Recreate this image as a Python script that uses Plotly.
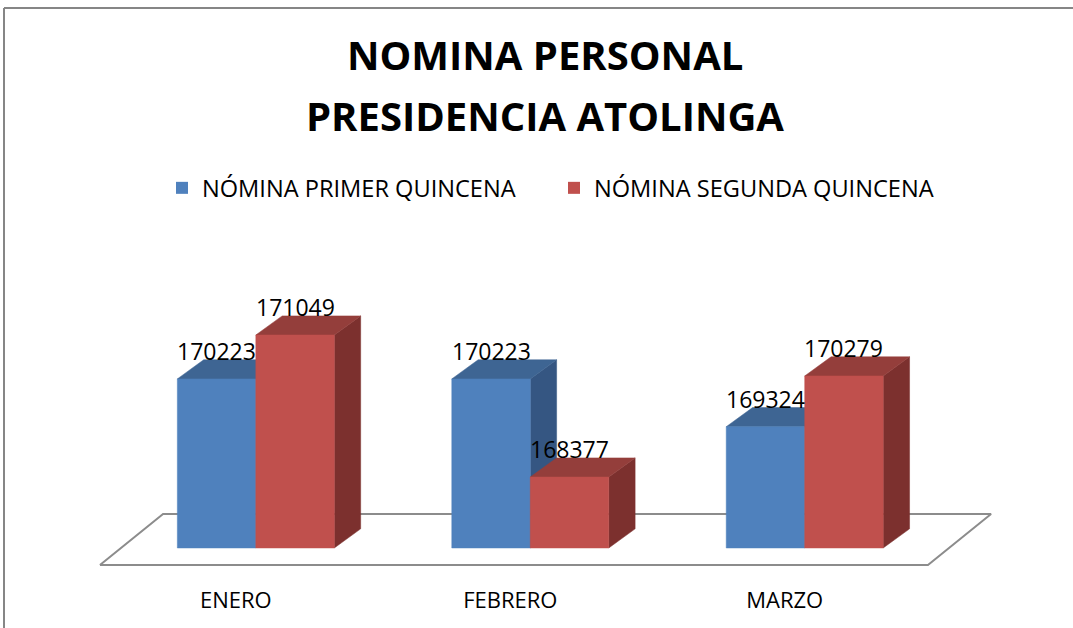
import plotly.graph_objects as go

# ---------------- data ----------------
categories = ["ENERO", "FEBRERO", "MARZO"]
series_names = ["NÓMINA PRIMER QUINCENA", "NÓMINA SEGUNDA QUINCENA"]
primera = [170223, 170223, 169324]
segunda = [171049, 168377, 170279]
title_lines = ["NOMINA PERSONAL", "PRESIDENCIA ATOLINGA"]

# ---------------- style ----------------
W, H = 1073, 628
ML, MR, MT, MB = 50, 35, 258, 51
PW, PH = W - ML - MR, H - MT - MB
X_RANGE = [-0.75, 2.85]
Y_RANGE = [166496, 172498]
BASE = 167042            # floor level of the bars
BAR_W = 0.286            # width of one bar in category units
DX, DY = 0.096, 360      # 3D depth offset (x units, y units)
FONT = "Open Sans"

face = {0: ("#4F81BD", "#3E6593", "#355682"), 1: ("#C0504D", "#943E3B", "#7C302E")}

def px_x(p):   # pixel -> paper x
    return (p - ML) / PW

def px_y(p):   # pixel -> paper y
    return (H - MB - p) / PH

fig = go.Figure()

# floor (3D plane)
fx0, fx1, fdx = X_RANGE[0] + 0.182, len(categories) - 0.551, 0.23
fy0, fy1 = BASE - 320, BASE + 640
fig.add_trace(go.Scatter(
    x=[fx0, fx1, fx1 + fdx, fx0 + fdx, fx0],
    y=[fy0, fy0, fy1, fy1, fy0],
    mode="lines", fill="toself", fillcolor="white",
    line=dict(color="#8C8C8C", width=2), hoverinfo="skip", showlegend=False))

def poly(xs, ys, color):
    fig.add_trace(go.Scatter(
        x=xs + [xs[0]], y=ys + [ys[0]], mode="lines", fill="toself",
        fillcolor=color, line=dict(width=0.5, color=color),
        hoverinfo="skip", showlegend=False))

series = [primera, segunda]
annotations = []
for i, cat in enumerate(categories):
    for s, vals in enumerate(series):
        v = vals[i]
        xl = i - BAR_W + s * BAR_W
        xr = xl + BAR_W
        front, top, side = face[s]
        # side face
        poly([xr, xr + DX, xr + DX, xr], [BASE, BASE + DY, v + DY, v], side)
        # top face
        poly([xl, xr, xr + DX, xl + DX], [v, v, v + DY, v + DY], top)
        # front face
        poly([xl, xr, xr, xl], [BASE, BASE, v, v], front)
        annotations.append(dict(
            x=(xl + xr) / 2, y=v, xref="x", yref="y", text=str(v),
            showarrow=False, yanchor="middle", yshift=28,
            font=dict(family=FONT, size=23, color="black")))

# legend entries
for s, name in enumerate(series_names):
    fig.add_trace(go.Scatter(
        x=[None], y=[None], mode="markers", name=name,
        marker=dict(symbol="square", size=12, color=face[s][0])))

# title lines
for k, t in enumerate(title_lines):
    annotations.append(dict(
        x=px_x(545), y=px_y(54 + 62 * k), xref="paper", yref="paper",
        text=f"<b>{t}</b>", showarrow=False, xanchor="center", yanchor="middle",
        font=dict(family=FONT, size=40, color="black")))

# outer frame (partially cropped chart border)
shapes = [
    dict(type="line", xref="paper", yref="paper",
         x0=px_x(4), x1=px_x(1080), y0=px_y(8), y1=px_y(8),
         line=dict(color="#868686", width=2)),
    dict(type="line", xref="paper", yref="paper",
         x0=px_x(4), x1=px_x(4), y0=px_y(8), y1=px_y(640),
         line=dict(color="#868686", width=2)),
]

fig.update_layout(
    width=W, height=H,
    margin=dict(l=ML, r=MR, t=MT, b=MB),
    paper_bgcolor="white", plot_bgcolor="white",
    font=dict(family=FONT, color="black"),
    showlegend=True,
    legend=dict(orientation="h", x=px_x(162), y=px_y(188),
                xanchor="left", yanchor="middle",
                font=dict(family=FONT, size=23.6, color="black"),
                entrywidth=347, entrywidthmode="pixels",
                bgcolor="rgba(0,0,0,0)"),
    annotations=annotations,
    shapes=shapes,
    xaxis=dict(range=X_RANGE, tickvals=list(range(len(categories))),
               ticktext=categories, showgrid=False, zeroline=False,
               showline=False, ticks="", ticklabelshift=-20,
               ticklabelstandoff=8,
               tickfont=dict(family=FONT, size=22, color="black"),
               fixedrange=True),
    yaxis=dict(range=Y_RANGE, visible=False, showgrid=False,
               zeroline=False, fixedrange=True),
)

fig.write_html("out.html",
               config={"displayModeBar": False},
               post_script="document.body.style.margin='0';document.body.style.overflow='hidden';")
